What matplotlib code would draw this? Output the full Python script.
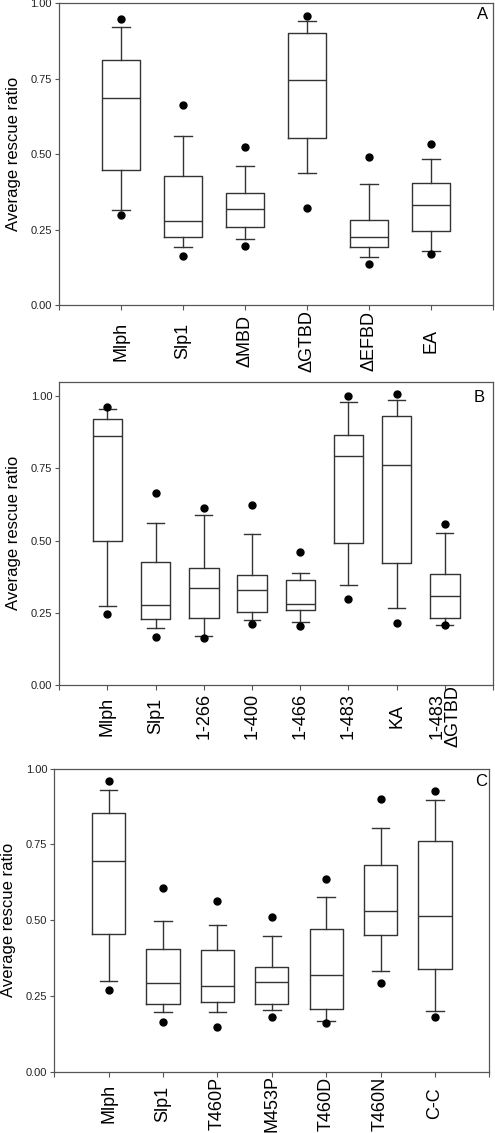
import matplotlib
matplotlib.use("Agg")
import matplotlib.pyplot as plt

plt.rcParams['font.family'] = ['Liberation Sans', 'DejaVu Sans']

# ---------------- data ----------------
cats_a = ["Mlph", "Slp1", "\u0394MBD", "\u0394GTBD", "\u0394EFBD", "EA"]
q1_a = [0.447, 0.227, 0.258, 0.555, 0.192, 0.245]
med_a = [0.687, 0.279, 0.318, 0.744, 0.225, 0.332]
q3_a = [0.811, 0.427, 0.370, 0.900, 0.281, 0.404]
wlo_a = [0.314, 0.194, 0.218, 0.437, 0.159, 0.178]
whi_a = [0.921, 0.560, 0.460, 0.939, 0.400, 0.485]
outlo_a = [0.299, 0.164, 0.195, 0.321, 0.138, 0.170]
outhi_a = [0.947, 0.663, 0.523, 0.958, 0.491, 0.533]

cats_b = ["Mlph", "Slp1", "1-266", "1-400", "1-466", "1-483", "KA", "1-483\n\u0394GTBD"]
q1_b = [0.498, 0.227, 0.233, 0.252, 0.258, 0.490, 0.423, 0.233]
med_b = [0.861, 0.278, 0.337, 0.328, 0.282, 0.792, 0.763, 0.307]
q3_b = [0.920, 0.427, 0.404, 0.382, 0.363, 0.867, 0.932, 0.385]
wlo_b = [0.273, 0.196, 0.171, 0.224, 0.217, 0.346, 0.268, 0.209]
whi_b = [0.954, 0.560, 0.588, 0.523, 0.389, 0.980, 0.986, 0.525]
outlo_b = [0.245, 0.165, 0.163, 0.210, 0.203, 0.298, 0.216, 0.206]
outhi_b = [0.964, 0.663, 0.614, 0.624, 0.460, 0.999, 1.009, 0.559]

cats_c = ["Mlph", "Slp1", "T460P", "M453P", "T460D", "T460N", "C-C"]
q1_c = [0.454, 0.222, 0.229, 0.222, 0.206, 0.450, 0.338]
med_c = [0.697, 0.293, 0.282, 0.295, 0.320, 0.532, 0.513]
q3_c = [0.853, 0.404, 0.403, 0.347, 0.470, 0.683, 0.760]
wlo_c = [0.299, 0.196, 0.198, 0.205, 0.168, 0.331, 0.199]
whi_c = [0.931, 0.499, 0.485, 0.448, 0.578, 0.805, 0.897]
outlo_c = [0.271, 0.163, 0.149, 0.180, 0.160, 0.293, 0.182]
outhi_c = [0.959, 0.605, 0.565, 0.512, 0.636, 0.899, 0.927]

yticks = [0.00, 0.25, 0.50, 0.75, 1.00]
ylabel = "Average rescue ratio"

panels = [
    dict(letter="A", cats=cats_a, q1=q1_a, med=med_a, q3=q3_a, wlo=wlo_a, whi=whi_a,
         olo=outlo_a, ohi=outhi_a, rect=(59, 3, 493, 305.3), ytop=1.0, cap=0.275,
         pad=22.5, letter_off=(-5, -4)),
    dict(letter="B", cats=cats_b, q1=q1_b, med=med_b, q3=q3_b, wlo=wlo_b, whi=whi_b,
         olo=outlo_b, ohi=outhi_b, rect=(59.3, 381.7, 493, 685), ytop=1.05, cap=0.35,
         pad=18.8, letter_off=(-8, -8)),
    dict(letter="C", cats=cats_c, q1=q1_c, med=med_c, q3=q3_c, wlo=wlo_c, whi=whi_c,
         olo=outlo_c, ohi=outhi_c, rect=(54.3, 768.7, 489.3, 1071.7), ytop=1.0, cap=0.32,
         pad=19.5, letter_off=(-2, -5)),
]

W, H = 495, 1133
fig = plt.figure(figsize=(W / 100, H / 100), dpi=100)

line_col = "#333333"
spine_col = "#555555"

for p in panels:
    x0, y0, x1, y1 = p["rect"]
    ax = fig.add_axes([x0 / W, 1 - y1 / H, (x1 - x0) / W, (y1 - y0) / H])
    n = len(p["cats"])
    stats = []
    for i in range(n):
        stats.append(dict(med=p["med"][i], q1=p["q1"][i], q3=p["q3"][i],
                          whislo=p["wlo"][i], whishi=p["whi"][i],
                          fliers=[p["olo"][i], p["ohi"][i]], label=p["cats"][i]))
    positions = list(range(1, n + 1))
    ax.bxp(stats, positions=positions, widths=0.61, capwidths=p["cap"],
           showfliers=True, patch_artist=False,
           boxprops=dict(color=line_col, linewidth=1.0),
           medianprops=dict(color=line_col, linewidth=1.0),
           whiskerprops=dict(color=line_col, linewidth=1.0),
           capprops=dict(color=line_col, linewidth=1.0),
           flierprops=dict(marker="o", markerfacecolor="black", markeredgecolor="black",
                           markersize=5, linestyle="none"))
    ax.set_xlim(0, n + 1)
    ax.set_ylim(0, p["ytop"])
    ax.set_xticks(list(range(0, n + 2)))
    ax.set_xticklabels([""] + p["cats"] + [""], rotation=90, va="center",
                       fontsize=13, color="black", linespacing=0.95)
    ax.set_yticks(yticks)
    ax.set_yticklabels(["%.2f" % v for v in yticks], fontsize=8, color="#222222")
    ax.tick_params(axis="x", direction="out", length=3.5, width=0.8, color=spine_col,
                   pad=p["pad"])
    ax.tick_params(axis="y", direction="out", length=3, width=0.8, color=spine_col, pad=2)
    for s in ax.spines.values():
        s.set_color(spine_col)
        s.set_linewidth(0.9)
    ax.set_ylabel(ylabel, fontsize=12, labelpad=7)
    ax.annotate(p["letter"], xy=(1, 1), xycoords="axes fraction",
                xytext=p["letter_off"], textcoords="offset pixels",
                ha="right", va="top", fontsize=12)

fig.savefig("out.png", dpi=100)
